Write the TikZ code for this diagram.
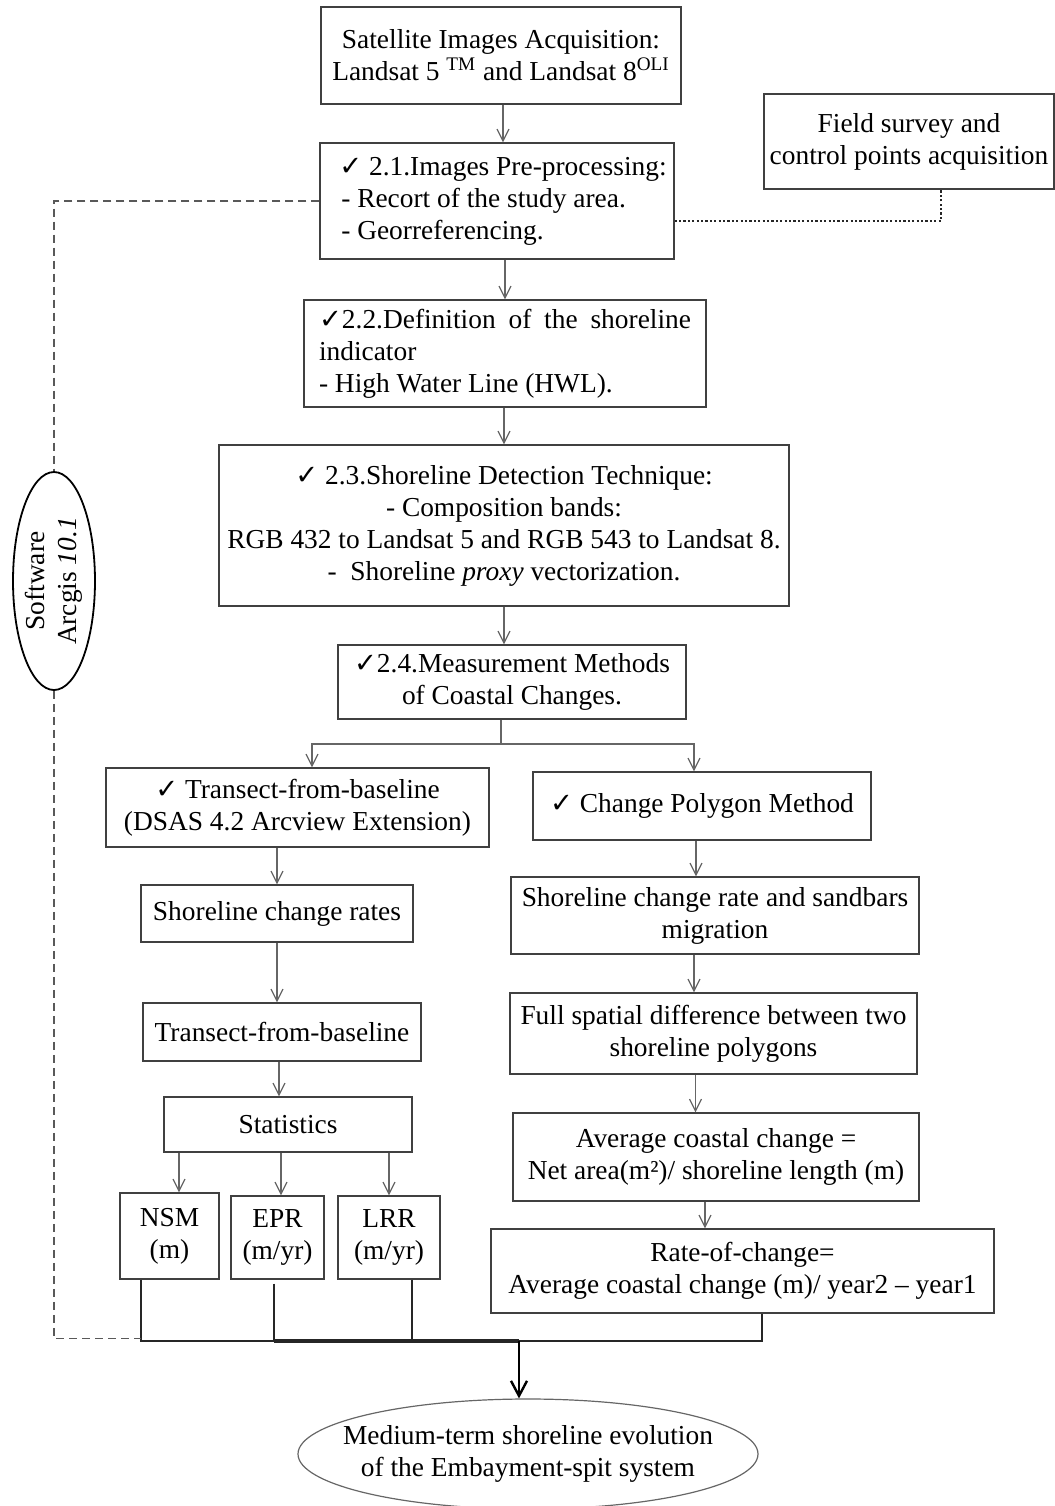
\documentclass[tikz,border=0pt]{standalone}
\usepackage{fontspec}
\setmainfont{Liberation Serif}
\newfontfamily\symfont{DejaVu Sans}
\usetikzlibrary{arrows.meta,calc,shapes.geometric}

\newcommand{\ck}{{\symfont ✓}}

\begin{document}
\begin{tikzpicture}[x=0.5pt,y=-0.5pt,
  every node/.style={font=\fontsize{13.7}{16}\selectfont},
  box/.style 2 args={draw=black!75, line width=0.6pt, inner sep=0pt,
    minimum width=#1*0.5pt, minimum height=#2*0.5pt, align=center},
  arr/.style={draw=black!60, line width=0.6pt,
    -{Straight Barb[length=6pt,width=6pt,line width=0.6pt]}},
  link/.style={draw=black!60, line width=0.6pt},
  bar/.style={draw=black!85, line width=1pt},
  bigarr/.style={draw=black, line width=1.2pt,
    -{Straight Barb[length=7.5pt,width=8pt,line width=1.2pt]}},
  dsh/.style={draw=black!65, line width=0.6pt, dash pattern=on 4pt off 2.5pt},
  dtt/.style={draw=black!85, line width=1.1pt, dash pattern=on 1.1pt off 1.1pt}]

\useasboundingbox (0,0) rectangle (1055,1506);

% main chain
\node[box={360}{97}] (sat) at (501,55.5)
  {Satellite Images Acquisition:\\Landsat 5 \textsuperscript{TM} and Landsat 8\textsuperscript{OLI}};
\node[box={354}{116}, align=left] (pre) at (497,201)
  {\hspace*{6pt}\ck\ 2.1.Images Pre-processing:\\\hspace*{7pt}- Recort of the study area.\\\hspace*{7pt}- Georreferencing.};
\node[box={290}{95}] (field) at (909,141.5)
  {Field survey and\\control points acquisition};
\node[box={402}{107}, align=left] (def) at (505,353.5)
  {\makebox[186pt][s]{\ck2.2.Definition of the shoreline}\\indicator\\- High Water Line (HWL).};
\node[box={570}{161}] (det) at (504,525.5)
  {\ck\ 2.3.Shoreline Detection Technique:\\- Composition bands:\\RGB 432 to Landsat 5 and RGB 543 to Landsat 8.\\-\ \ Shoreline \textit{proxy} vectorization.};
\node[box={348}{74}] (meas) at (512,682)
  {\ck2.4.Measurement Methods\\of Coastal Changes.};

% left branch
\node[box={383}{79}] (tfb) at (297.5,807.5)
  {\ck\ Transect-from-baseline\\(DSAS 4.2 Arcview Extension)};
\node[box={272}{57}] (scr) at (277,913.5) {Shoreline change rates};
\node[box={278}{58}] (tfb2) at (282,1032) {Transect-from-baseline};
\node[box={248}{55}] (stat) at (288,1124.5) {Statistics};
\node[box={99}{86}] (nsm) at (169.5,1236) {NSM\\(m)};
\node[box={93}{83}] (epr) at (277.5,1237.5) {EPR\\(m/yr)};
\node[box={102}{83}] (lrr) at (389,1237.5) {LRR\\(m/yr)};

% right branch
\node[box={338}{68}] (cpm) at (702,806) {\ck\ Change Polygon Method};
\node[box={408}{77}] (scrs) at (715,915.5)
  {Shoreline change rate and sandbars\\migration};
\node[box={407}{81}] (full) at (713.5,1033.5)
  {Full spatial difference between two\\shoreline polygons};
\node[box={406}{88}] (avg) at (716,1157)
  {Average coastal change =\\Net area(m²)/ shoreline length (m)};
\node[box={503}{84}] (roc) at (742.5,1271)
  {Rate-of-change=\\Average coastal change (m)/ year2 – year1};

% result and software (fixed-size outlines, text set on top)
\node[ellipse, draw=black!60, line width=0.6pt, inner sep=0pt,
  minimum width=460*0.5pt, minimum height=110*0.5pt] (out) at (528,1454) {};
\node[align=center] (outt) at (out.center)
  {Medium-term shoreline evolution\\of the Embayment-spit system};
\node[ellipse, draw=black, line width=0.9pt, inner sep=0pt,
  minimum width=82*0.5pt, minimum height=218*0.5pt] (sw) at (54,581) {};
\node[rotate=90, align=center] (swt) at (sw.center) {Software\\Arcgis \textit{10.1}};

% vertical flow
\draw[arr] (sat.south -| 503,0) -- (pre.north -| 503,0);
\draw[arr] (def.north |- pre.south) -- (def.north);
\draw[arr] (det.north |- def.south) -- (det.north);
\draw[arr] (det.south) -- (det.south |- meas.north);

% split into the two methods
\coordinate (sp) at (501,744);
\coordinate (tl) at ($(tfb.north)+(14.5,0)$);
\coordinate (tr) at ($(cpm.north)+(-8,0)$);
\draw[link] (meas.south -| sp) -- (sp);
\draw[arr] (sp) -| (tl);
\draw[arr] (sp) -| (tr);

% left chain
\draw[arr] (scr.north |- tfb.south) -- (scr.north);
\draw[arr] (scr.south) -- (scr.south |- tfb2.north);
\draw[arr] (tfb2.south -| stat.north) ++(-9,0) coordinate (s0) -- (s0 |- stat.north);
\coordinate (a1) at ($(nsm.north)+(9.5,0)$);
\coordinate (a2) at ($(epr.north)+(3.5,0)$);
\coordinate (a3) at (lrr.north);
\draw[arr] (a1 |- stat.south) -- (a1);
\draw[arr] (a2 |- stat.south) -- (a2);
\draw[arr] (a3 |- stat.south) -- (a3);

% right chain
\draw[arr] ($(cpm.south)+(-6,0)$) coordinate (c0) -- (c0 |- scrs.north);
\draw[arr] ($(scrs.south)+(-21,0)$) coordinate (c1) -- (c1 |- full.north);
\draw[arr] ($(full.south)+(-18,0)$) coordinate (c2) -- (c2 |- avg.north);
\draw[arr] ($(avg.south)+(-11,0)$) coordinate (c3) -- (c3 |- roc.north);

% collecting bar
\coordinate (jn) at (519,1341);
\coordinate (n1) at ($(nsm.south)+(-28.5,0)$);
\coordinate (e1) at ($(epr.south)+(-3.5,4)$);
\coordinate (l1) at ($(lrr.south)+(23,0)$);
\coordinate (r1) at ($(roc.south)+(19.5,0)$);
\draw[bar] (n1) -- (n1 |- jn) -- (r1 |- jn) -- (r1);
\draw[bar] (e1) -- (e1 |- jn);
\draw[bar] (l1) -- (l1 |- jn);
\draw[bar, line width=1.7pt] (e1 |- jn) -- (jn);
\draw[bigarr] (jn) -- (jn |- out.north);

% software links
\draw[dsh] (pre.west) -| (sw.north);
\draw[dsh] (sw.south) |- ($(n1)+(0,59)$);
\draw[dtt] ($(pre.east)+(0,20)$) -| ($(field.south)+(32,0)$);
\end{tikzpicture}
\end{document}
